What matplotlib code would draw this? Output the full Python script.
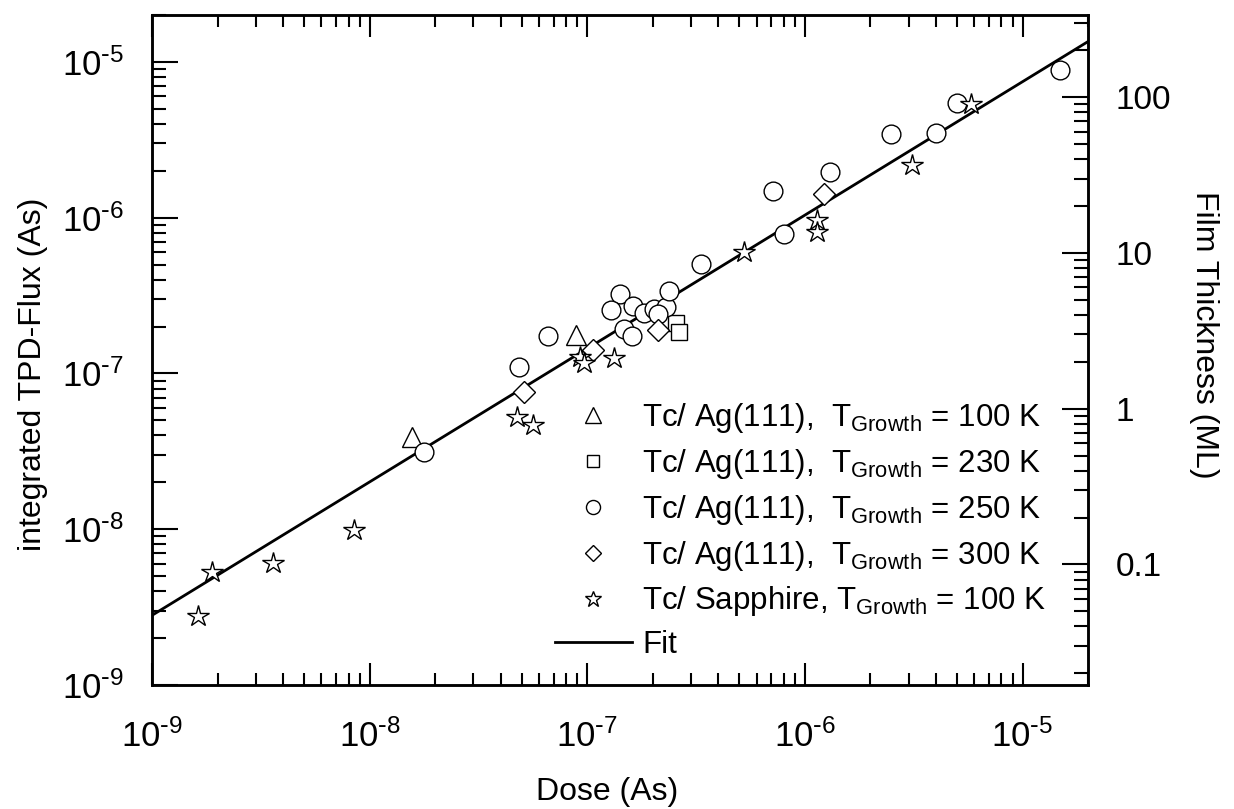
import matplotlib.pyplot as plt
from matplotlib.ticker import LogLocator, FuncFormatter, NullFormatter
import numpy as np

plt.rcParams['font.family'] = ['Liberation Sans', 'DejaVu Sans']
plt.rcParams['mathtext.default'] = 'regular'

# Tc/ Ag(111), T_Growth = 100 K
tri_dose = [1.56e-8, 8.9e-8]
tri_flux = [3.88e-8, 1.76e-7]

# Tc/ Ag(111), T_Growth = 230 K
sq_dose = [2.57e-7, 2.65e-7]
sq_flux = [2.10e-7, 1.84e-7]

# Tc/ Ag(111), T_Growth = 250 K
circ_dose = [1.77e-8, 4.88e-8, 6.57e-8, 1.41e-7, 1.29e-7, 1.63e-7, 1.82e-7,
             2.02e-7, 2.31e-7, 2.11e-7, 2.37e-7, 1.47e-7, 1.60e-7, 3.34e-7,
             7.11e-7, 8.05e-7, 1.31e-6, 2.50e-6, 4.01e-6, 5.01e-6, 1.48e-5]
circ_flux = [3.11e-8, 1.10e-7, 1.73e-7, 3.22e-7, 2.55e-7, 2.71e-7, 2.45e-7,
             2.61e-7, 2.65e-7, 2.40e-7, 3.38e-7, 1.94e-7, 1.73e-7, 5.05e-7,
             1.48e-6, 7.85e-7, 1.96e-6, 3.43e-6, 3.52e-6, 5.44e-6, 8.88e-6]

# Tc/ Ag(111), T_Growth = 300 K
dia_dose = [5.1e-8, 1.06e-7, 2.11e-7, 1.23e-6]
dia_flux = [7.57e-8, 1.41e-7, 1.89e-7, 1.41e-6]

# Tc/ Sapphire, T_Growth = 100 K
star_dose = [1.63e-9, 1.88e-9, 3.59e-9, 8.51e-9, 4.75e-8, 5.63e-8, 9.22e-8,
             9.62e-8, 1.32e-7, 5.23e-7, 1.14e-6, 1.14e-6, 3.12e-6, 5.77e-6]
star_flux = [2.79e-9, 5.3e-9, 6.06e-9, 9.85e-9, 5.28e-8, 4.67e-8, 1.27e-7,
             1.16e-7, 1.25e-7, 6.01e-7, 9.71e-7, 8.04e-7, 2.17e-6, 5.36e-6]

# fit line end points
fit_dose = [1e-9, 2e-5]
fit_flux = [2.8e-9, 1.35e-5]

# conversion integrated flux -> film thickness
ML_PER_AS = 1.683e7

x_lim = (1e-9, 2e-5)
y_lim = (1e-9, 2e-5)


def exp_label(v, pos):
    e = int(round(np.log10(v)))
    if e < 0:
        return r'$10^{\text{-}%d}$' % (-e)
    return r'$10^{%d}$' % e


fig = plt.figure(figsize=(12.34, 8.09), dpi=100)
ax = fig.add_axes([0.1232, 0.1533, 0.7585, 0.8282])

ax.plot(fit_dose, fit_flux, color='black', lw=2.0, zorder=2, label='Fit')

mk = dict(linestyle='none', mfc='white', mec='black', mew=1.0, zorder=3)
h_tri, = ax.plot(tri_dose, tri_flux, marker='^', ms=15, **mk,
                 label=r'Tc/ Ag(111),  T$_{Growth}$ = 100 K')
h_sq, = ax.plot(sq_dose, sq_flux, marker='s', ms=11.5, **mk,
                label=r'Tc/ Ag(111),  T$_{Growth}$ = 230 K')
h_circ, = ax.plot(circ_dose, circ_flux, marker='o', ms=13.5, **mk,
                  label=r'Tc/ Ag(111),  T$_{Growth}$ = 250 K')
h_dia, = ax.plot(dia_dose, dia_flux, marker='D', ms=11.5, **mk,
                 label=r'Tc/ Ag(111),  T$_{Growth}$ = 300 K')
h_star, = ax.plot(star_dose, star_flux, marker='*', ms=16, **mk,
                  label=r'Tc/ Sapphire, T$_{Growth}$ = 100 K')

ax.set_xscale('log')
ax.set_yscale('log')
ax.set_xlim(*x_lim)
ax.set_ylim(*y_lim)

ax.xaxis.set_major_locator(LogLocator(base=10))
ax.yaxis.set_major_locator(LogLocator(base=10))
ax.xaxis.set_minor_locator(LogLocator(base=10, subs=np.arange(2, 10)))
ax.yaxis.set_minor_locator(LogLocator(base=10, subs=np.arange(2, 10)))
ax.xaxis.set_major_formatter(FuncFormatter(exp_label))
ax.yaxis.set_major_formatter(FuncFormatter(exp_label))
ax.xaxis.set_minor_formatter(NullFormatter())
ax.yaxis.set_minor_formatter(NullFormatter())

ax.tick_params(axis='both', which='both', direction='in', width=1.5,
               labelsize=25, top=True, right=False)
ax.tick_params(axis='x', which='major', length=16, pad=25)
ax.tick_params(axis='x', which='minor', length=8.5)
ax.tick_params(axis='y', which='major', length=18.5, pad=20)
ax.tick_params(axis='y', which='minor', length=10)

for s in ax.spines.values():
    s.set_linewidth(1.8)

# right axis: film thickness
ax2 = ax.twinx()
ax2.set_yscale('log')
ax2.set_ylim(y_lim[0] * ML_PER_AS, y_lim[1] * ML_PER_AS)
ax2.yaxis.set_major_locator(LogLocator(base=10))
ax2.yaxis.set_minor_locator(LogLocator(base=10, subs=np.arange(2, 10)))
ax2.yaxis.set_major_formatter(FuncFormatter(lambda v, p: '%g' % v))
ax2.yaxis.set_minor_formatter(NullFormatter())
ax2.tick_params(axis='y', which='both', direction='in', width=1.5, labelsize=24)
ax2.tick_params(axis='y', which='major', length=18.5, pad=20)
ax2.tick_params(axis='y', which='minor', length=10)
for s in ax2.spines.values():
    s.set_linewidth(1.8)

ax.set_xlabel('Dose (As)', fontsize=23, va='top')
ax.xaxis.set_label_coords(0.486, -0.138)
ax.set_ylabel('integrated TPD-Flux (As)', fontsize=23, va='center')
ax.yaxis.set_label_coords(-0.127, 0.463)
ax2.set_ylabel('Film Thickness (ML)', fontsize=23, rotation=270, va='center')
ax2.yaxis.set_label_coords(1.124, 0.522)

handles = [h_tri, h_sq, h_circ, h_dia, h_star, ax.lines[0]]
ax.legend(handles=handles, loc='upper left', frameon=False, fontsize=22.5,
          markerscale=0.75, handlelength=2.45, handletextpad=0.35,
          labelspacing=0.38, borderpad=0, borderaxespad=0,
          bbox_to_anchor=(555 / 1234, 1 - 401 / 809),
          bbox_transform=fig.transFigure)

fig.savefig('out.png', dpi=100)
